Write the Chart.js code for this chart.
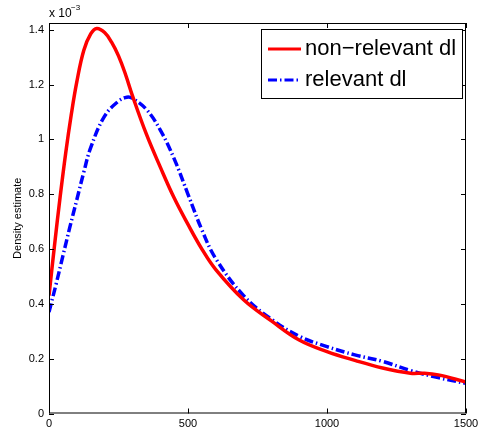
<!DOCTYPE html>
<html>
<head>
<meta charset="utf-8">
<script src="https://cdn.jsdelivr.net/npm/chart.js@4/dist/chart.umd.min.js"></script>
<style>
  html, body { margin: 0; padding: 0; background: #fff; }
  #wrap { width: 483px; height: 436px; }
</style>
</head>
<body>
<div id="wrap"><canvas id="densityChart" width="483" height="436"></canvas></div>
<script>
// Data (density values in units of 1e-3)
const nonRelX = [0, 20, 40, 60, 80, 100, 125, 150, 172, 200, 225, 250, 275, 300, 350, 400, 450, 500, 550, 600, 700, 800, 900, 1000, 1100, 1200, 1300, 1350, 1400, 1500];
const nonRelY = [0.43, 0.615, 0.79, 0.95, 1.09, 1.21, 1.325, 1.385, 1.405, 1.39, 1.355, 1.305, 1.238, 1.16, 1.02, 0.9, 0.787, 0.69, 0.6, 0.525, 0.415, 0.338, 0.268, 0.226, 0.194, 0.166, 0.147, 0.147, 0.141, 0.115];

const relX = [0, 25, 50, 75, 100, 125, 150, 200, 250, 280, 300, 350, 400, 450, 500, 550, 600, 700, 800, 900, 1000, 1100, 1200, 1300, 1400, 1500];
const relY = [0.37, 0.47, 0.575, 0.68, 0.78, 0.88, 0.97, 1.085, 1.14, 1.154, 1.15, 1.11, 1.035, 0.93, 0.8, 0.67, 0.565, 0.43, 0.344, 0.282, 0.244, 0.214, 0.19, 0.157, 0.131, 0.11];

const seriesLabels = ["non\u2212relevant dl", "relevant dl"];
const xTicks = [0, 500, 1000, 1500];
const yTicks = [0, 0.2, 0.4, 0.6, 0.8, 1, 1.2, 1.4];

const FONT = "'Liberation Sans', Arial, sans-serif";
const dashDot = [9, 3, 1.5, 3];

function toPoints(xs, ys) {
  return xs.map((x, i) => ({ x: x, y: ys[i] }));
}

// Box, inward ticks, axis title, exponent label and legend (MATLAB style)
const matlabDecor = {
  id: "matlabDecor",
  afterDraw(chart) {
    const ctx = chart.ctx;
    const a = chart.chartArea;
    const xs = chart.scales.x;
    const ys = chart.scales.y;
    ctx.save();
    ctx.strokeStyle = "#000";
    ctx.lineWidth = 1;
    ctx.strokeRect(a.left + 0.5, a.top + 0.5, a.right - a.left - 1, a.bottom - a.top - 1);

    ctx.beginPath();
    xTicks.forEach((v) => {
      const px = Math.round(xs.getPixelForValue(v)) + 0.5;
      ctx.moveTo(px, a.bottom);
      ctx.lineTo(px, a.bottom - 5);
      ctx.moveTo(px, a.top);
      ctx.lineTo(px, a.top + 5);
    });
    yTicks.forEach((v) => {
      const py = Math.round(ys.getPixelForValue(v)) + 0.5;
      ctx.moveTo(a.left, py);
      ctx.lineTo(a.left + 5, py);
      ctx.moveTo(a.right, py);
      ctx.lineTo(a.right - 5, py);
    });
    ctx.stroke();

    // y axis title
    ctx.fillStyle = "#000";
    ctx.font = "11px " + FONT;
    ctx.textAlign = "center";
    ctx.textBaseline = "middle";
    ctx.translate(18, (a.top + a.bottom) / 2);
    ctx.rotate(-Math.PI / 2);
    ctx.fillText("Density estimate", 0, 0);
    ctx.setTransform(1, 0, 0, 1, 0, 0);

    // exponent label
    ctx.textAlign = "left";
    ctx.textBaseline = "alphabetic";
    ctx.font = "12px " + FONT;
    ctx.fillText("x 10", 49, 17);
    ctx.font = "8px " + FONT;
    ctx.fillText("\u22123", 71, 10);

    // legend
    const lx = 261, ly = 29, lw = 201, lh = 69;
    ctx.fillStyle = "#fff";
    ctx.fillRect(lx, ly, lw, lh);
    ctx.strokeRect(lx + 0.5, ly + 0.5, lw, lh);
    const rows = [
      { y: 49, color: "#ff0000", dash: [] },
      { y: 80, color: "#0000ff", dash: dashDot }
    ];
    rows.forEach((r, i) => {
      ctx.beginPath();
      ctx.strokeStyle = r.color;
      ctx.lineWidth = 3;
      ctx.setLineDash(r.dash);
      ctx.moveTo(268, r.y);
      ctx.lineTo(301, r.y);
      ctx.stroke();
      ctx.setLineDash([]);
      ctx.fillStyle = "#000";
      ctx.font = "22px " + FONT;
      ctx.textBaseline = "middle";
      ctx.fillText(seriesLabels[i], 305, r.y);
    });
    ctx.restore();
  }
};

new Chart(document.getElementById("densityChart").getContext("2d"), {
  type: "scatter",
  data: {
    datasets: [
      {
        label: seriesLabels[0],
        data: toPoints(nonRelX, nonRelY),
        showLine: true,
        borderColor: "#ff0000",
        borderWidth: 3.5,
        pointRadius: 0,
        tension: 0.4
      },
      {
        label: seriesLabels[1],
        data: toPoints(relX, relY),
        showLine: true,
        borderColor: "#0000ff",
        borderWidth: 3.5,
        borderDash: dashDot,
        pointRadius: 0,
        tension: 0.4
      }
    ]
  },
  options: {
    responsive: false,
    animation: false,
    layout: { padding: { top: 23, right: 17, left: 0, bottom: 0 } },
    plugins: {
      legend: { display: false },
      tooltip: { enabled: false }
    },
    scales: {
      x: {
        type: "linear",
        min: 0,
        max: 1500,
        afterBuildTicks: (s) => { s.ticks = xTicks.map((v) => ({ value: v })); },
        afterFit: (s) => { s.height = 22.5; },
        grid: { display: false, drawTicks: false },
        border: { display: false },
        ticks: {
          padding: 4,
          color: "#000",
          font: { family: FONT, size: 11 },
          maxRotation: 0,
          callback: (v) => String(v)
        }
      },
      y: {
        type: "linear",
        min: 0,
        max: 1.425,
        afterBuildTicks: (s) => { s.ticks = yTicks.map((v) => ({ value: v })); },
        afterFit: (s) => { s.width = 49; },
        grid: { display: false, drawTicks: false },
        border: { display: false },
        ticks: {
          padding: 5,
          color: "#000",
          font: { family: FONT, size: 11 },
          callback: (v) => String(+v.toFixed(1))
        }
      }
    }
  },
  plugins: [matlabDecor]
});
</script>
</body>
</html>
